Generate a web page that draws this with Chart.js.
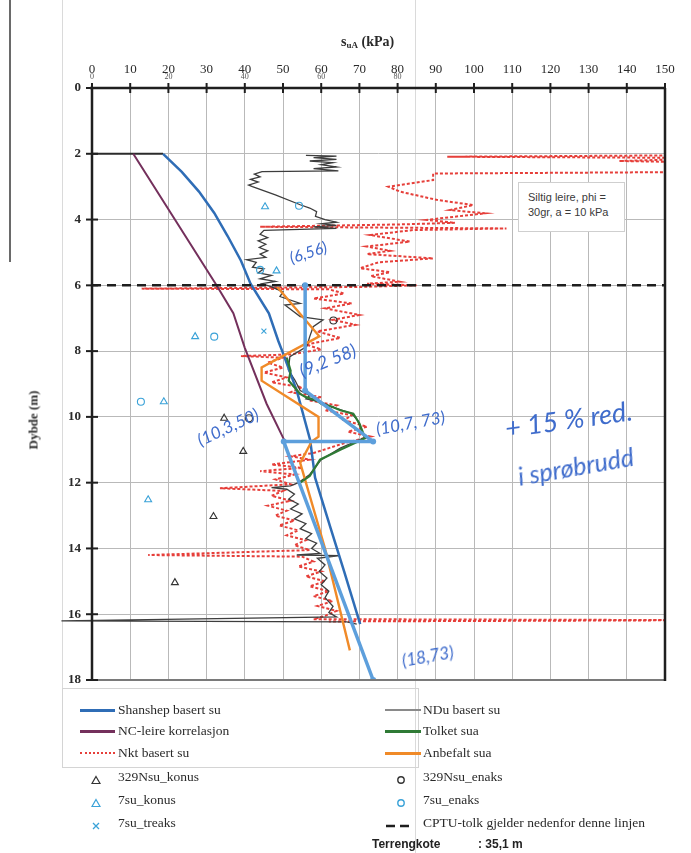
<!DOCTYPE html>
<html>
<head>
<meta charset="utf-8">
<title>Skjærfasthet mot dybde</title>
<script src="https://cdn.jsdelivr.net/npm/chart.js@4.4.0/dist/chart.umd.min.js"></script>
<style>
  html, body { margin: 0; padding: 0; background: #fff; }
  #wrap { position: relative; width: 691px; height: 853px; overflow: hidden; }
  #c { position: absolute; left: 0; top: 0; }
  .serif { font-family: "Liberation Serif", "DejaVu Serif", serif; color: #2a2a2a; }
  .abs { position: absolute; white-space: nowrap; line-height: 1; }
  .hand { position: absolute; white-space: nowrap; line-height: 1; color: #3f6ccc;
          font-family: "Lato", "Open Sans", sans-serif; font-style: italic; font-weight: 400; }
  #legendBox { position: absolute; left: 62px; top: 688px; width: 357px; height: 80px;
               border: 1px solid #d4d4d4; box-sizing: border-box; }
  .sw { position: absolute; height: 0; }
  #note { position: absolute; left: 518px; top: 182px; width: 107px; height: 50px; box-sizing: border-box;
          border: 1px solid #cfcfcf; background: #fff; padding: 7px 0 0 9px;
          font-family: "Liberation Sans", "Open Sans", sans-serif; font-size: 11px; line-height: 15px; color: #3a3a3a; }
</style>
</head>
<body>
<div id="wrap">
  <canvas id="c" width="691" height="853"></canvas>
</div>
<script>
// ---- axis ticks ----
const suTicks = [0, 10, 20, 30, 40, 50, 60, 70, 80, 90, 100, 110, 120, 130, 140, 150];
const suTicksSecondary = [0, 20, 40, 60, 80];
const depthTicks = [0, 2, 4, 6, 8, 10, 12, 14, 16, 18];

// ---- Shanshep basert su ----
const shanshepSu    = [18.6, 23.5, 28.0, 32.0, 35.5, 39.0, 41.5, 46.3, 48.8, 49.8, 53.6, 57.1, 58.4, 62.5, 66.0, 70.2];
const shanshepDepth = [2.0, 2.55, 3.15, 3.8, 4.5, 5.25, 5.95, 6.85, 7.7, 8.0, 9.2, 10.7, 11.85, 13.4, 14.7, 16.3];

// ---- NC-leire korrelasjon ----
const ncSu    = [10.8, 21.7, 32.6, 37.0, 40.0, 45.7, 50.3];
const ncDepth = [2.0, 4.0, 6.0, 6.85, 7.9, 9.6, 10.7];

// ---- NDu basert su ----
const nduSu = [56, 64, 58, 64, 57, 63, 60, 64, 58, 64.5, 44.5, 42.5, 44, 41.5, 43.5, 41, 42, 48, 54.5, 57, 58.8, 58.5, 61, 64, 60, 64, 58, 64,
  45, 44, 46, 43.5, 45.5, 43.8, 46, 44, 45.5, 40.5, 43, 42, 45, 43.5, 47, 44, 48, 44.5, 47, 50, 49.2, 54.5, 50.5, 54.5, 60.5, 57.9, 57,
  56.2, 51.8, 51.4, 53.1, 54.5, 57, 56, 60, 63, 68, 69.5, 70.5, 71.5, 65, 60, 57, 54, 52, 47, 51, 53, 51.5, 54, 52, 55, 53, 56, 54.5,
  57.5, 56, 58.8, 57.5, 59.7, 53.6, 64.9, 59, 61, 59.5, 61.5, 60, 62, 61, 63.1, 62, 64, -8, 66.7, 69.3];
const nduDepth = [2.05, 2.07, 2.12, 2.17, 2.22, 2.27, 2.33, 2.4, 2.45, 2.52, 2.54, 2.62, 2.7, 2.78, 2.86, 2.95, 3.0, 3.25, 3.55, 3.65,
  3.76, 3.9, 4.0, 4.08, 4.13, 4.18, 4.22, 4.27, 4.33, 4.45, 4.55, 4.65, 4.75, 4.85, 4.95, 5.05, 5.15, 5.22, 5.3, 5.45, 5.5, 5.62, 5.7,
  5.8, 5.88, 5.95, 6.05, 6.2, 6.34, 6.55, 6.6, 6.95, 7.05, 7.26, 7.56, 7.86, 8.17, 8.57, 8.88, 9.2, 9.35, 9.45, 9.55, 9.7, 9.9, 10.1,
  10.4, 10.62, 10.95, 11.3, 11.75, 12.0, 12.1, 12.15, 12.2, 12.35, 12.5, 12.65, 12.8, 12.95, 13.1, 13.25, 13.4, 13.55, 13.7, 13.84,
  14.0, 14.15, 14.2, 14.22, 14.3, 14.5, 14.7, 14.9, 15.1, 15.3, 15.5, 15.76, 15.95, 16.08, 16.2, 16.23, 16.3];

// top of the clay layer
const topSu    = [0, 18.6];
const topDepth = [2.0, 2.0];

// ---- Nkt basert su ----
const nktSu = [165, 93, 165, 138, 165, 165, 89.3, 89.3, 77.6, 80.6, 90.2, 99.8, 93.7, 102.9, 87.6, 95, 80, 44, 108.5, 84, 72.8, 83.2,
  71.9, 78, 72, 89.3, 75, 70.2, 78, 73, 80.6, 72, 85, 70, 13, 62, 66, 58, 68, 61, 70, 63, 69, 59, 65, 56, 60, 52, 39, 50, 46, 50, 45,
  51, 47, 55, 52, 60, 57, 64, 61, 68, 66, 72, 67, 73, 66, 62, 58, 52, 57, 47, 55, 44, 53, 48, 52, 33.5, 50, 47, 52, 46, 51, 48, 53, 49,
  54, 51, 56, 53, 57, 14.7, 55, 58, 54, 60, 56, 61, 57, 62, 58, 63, 59, 64, 61, 58, 165, 62];
const nktDepth = [2.04, 2.09, 2.13, 2.22, 2.27, 2.55, 2.6, 2.8, 3.0, 3.15, 3.4, 3.56, 3.71, 3.81, 4.01, 4.1, 4.15, 4.22, 4.27, 4.32,
  4.47, 4.67, 4.82, 4.95, 5.05, 5.18, 5.3, 5.48, 5.6, 5.72, 5.89, 5.95, 6.0, 6.05, 6.1, 6.12, 6.25, 6.4, 6.55, 6.7, 6.9, 7.05, 7.2,
  7.4, 7.6, 7.8, 7.95, 8.1, 8.15, 8.2, 8.35, 8.5, 8.65, 8.8, 8.95, 9.1, 9.25, 9.4, 9.5, 9.65, 9.8, 9.95, 10.1, 10.3, 10.45, 10.6,
  10.8, 10.95, 11.1, 11.2, 11.3, 11.45, 11.55, 11.65, 11.75, 11.9, 12.05, 12.17, 12.25, 12.4, 12.55, 12.7, 12.85, 13.0, 13.15, 13.3,
  13.45, 13.6, 13.75, 13.9, 14.05, 14.2, 14.25, 14.4, 14.55, 14.7, 14.85, 15.0, 15.15, 15.3, 15.45, 15.6, 15.75, 15.9, 16.05, 16.15,
  16.18, 16.22];

// ---- Tolket sua ----
const tolketSu    = [51, 52, 51.5, 53, 54.5, 56, 58.8, 60, 63, 65, 68.4, 70, 71.5, 65, 59.7, 57, 54.5];
const tolketDepth = [8.2, 8.6, 8.9, 9.1, 9.3, 9.4, 9.5, 9.6, 9.7, 9.8, 9.9, 10.2, 10.65, 11.0, 11.3, 11.8, 12.0];

// ---- Anbefalt sua ----
const anbefaltSu    = [48.5, 59.5, 44.4, 44.4, 59.3, 59.3, 57.5, 54.5, 61.0, 67.5];
const anbefaltDepth = [6.05, 7.55, 8.5, 8.9, 10.0, 10.6, 10.75, 11.4, 14.0, 17.1];

// ---- håndtegnet profil ----
const handSu    = [55.8, 55.8, 73.6, 50.2, 73.6];
const handDepth = [6.0, 9.2, 10.75, 10.75, 18.0];

// ---- CPTU-tolk grense ----
const cptuSu    = [0, 150];
const cptuDepth = [6.0, 6.0];

// ---- laboratorieforsøk ----
const nsu329KonusSu    = [34.6, 39.6, 31.8, 21.7];
const nsu329KonusDepth = [10.04, 11.05, 13.03, 15.04];
const nsu329EnaksSu    = [41.1, 63.2];
const nsu329EnaksDepth = [10.04, 7.07];
const su7KonusSu       = [45.3, 48.3, 27.0, 18.8, 14.7];
const su7KonusDepth    = [3.61, 5.56, 7.56, 9.54, 12.52];
const su7EnaksSu       = [54.2, 44.0, 32.0, 12.8];
const su7EnaksDepth    = [3.58, 5.53, 7.56, 9.54];
const su7TreaksSu      = [45.0];
const su7TreaksDepth   = [7.39];

// ---- colours ----
const C = {
  shanshep: '#2f6db6', nc: '#74305c', ndu: '#3d3d3d', tolket: '#2f7a35', anbefalt: '#f08a28',
  nkt: '#e63f3a', hand: '#5d9fdc', black: '#333333', lab: '#3aa2d8', dash: '#1e1e1e'
};

function pts(xs, ys) { return xs.map((v, i) => ({ x: v, y: ys[i] })); }

function lineSet(label, xs, ys, color, width, order, extra) {
  return Object.assign({
    label, data: pts(xs, ys), showLine: true, borderColor: color, backgroundColor: color,
    borderWidth: width, pointRadius: 0, tension: 0, fill: false, order
  }, extra || {});
}
function markerSet(label, xs, ys, color, style, radius, order) {
  return {
    label, data: pts(xs, ys), showLine: false, pointStyle: style, pointRadius: radius,
    pointBorderColor: color, pointBackgroundColor: 'rgba(0,0,0,0)', pointBorderWidth: 1.1, order
  };
}

const datasets = [
  markerSet('329Nsu_konus', nsu329KonusSu, nsu329KonusDepth, C.black, 'triangle', 4, 0),
  markerSet('329Nsu_enaks', nsu329EnaksSu, nsu329EnaksDepth, C.black, 'circle', 3.5, 0),
  markerSet('7su_konus', su7KonusSu, su7KonusDepth, C.lab, 'triangle', 4, 0),
  markerSet('7su_enaks', su7EnaksSu, su7EnaksDepth, C.lab, 'circle', 3.5, 0),
  markerSet('7su_treaks', su7TreaksSu, su7TreaksDepth, C.lab, 'crossRot', 3.5, 0),
  lineSet('', handSu, handDepth, C.hand, 3.5, 1, { pointRadius: 3, pointBorderWidth: 0, borderCapStyle: 'round', borderJoinStyle: 'round' }),
  lineSet('CPTU-tolk gjelder nedenfor denne linjen', cptuSu, cptuDepth, C.dash, 2.5, 2, { borderDash: [9, 6] }),
  lineSet('Tolket sua', tolketSu, tolketDepth, C.tolket, 2.2, 3),
  lineSet('Anbefalt sua', anbefaltSu, anbefaltDepth, C.anbefalt, 2.4, 4),
  lineSet('Shanshep basert su', shanshepSu, shanshepDepth, C.shanshep, 2.5, 5),
  lineSet('NC-leire korrelasjon', ncSu, ncDepth, C.nc, 2, 6),
  lineSet('NDu basert su', nduSu, nduDepth, C.ndu, 1.3, 7, { clip: { left: 40, top: 0, right: 0, bottom: 0 } }),
  lineSet('', topSu, topDepth, '#2b2b2b', 2, 7),
  lineSet('Nkt basert su', nktSu, nktDepth, C.nkt, 2, 8, { borderDash: [3, 2] })
];

function line(ctx, x1, y1, x2, y2) { ctx.beginPath(); ctx.moveTo(x1, y1); ctx.lineTo(x2, y2); ctx.stroke(); }

// page edges, frame, axis ticks and the second (small) su scale
const framePlugin = {
  id: 'frame',
  beforeDraw(chart) {
    const ctx = chart.ctx;
    ctx.save();
    ctx.fillStyle = '#fff';
    ctx.fillRect(0, 0, chart.width, chart.height);
    ctx.strokeStyle = '#dadada'; ctx.lineWidth = 1;
    line(ctx, 62.5, 0, 62.5, 688);
    line(ctx, 415.5, 0, 415.5, 853);
    ctx.strokeStyle = '#6a6a6a'; ctx.lineWidth = 2;
    line(ctx, 10, 0, 10, 262);
    ctx.restore();
  },
  afterDatasetsDraw(chart) {
    const { ctx, chartArea: a, scales: { x, y } } = chart;
    ctx.save();
    ctx.strokeStyle = '#7a7a7a'; ctx.lineWidth = 2;
    line(ctx, a.left, a.bottom, a.right, a.bottom);
    ctx.strokeStyle = '#1f1f1f'; ctx.lineWidth = 2.5;
    line(ctx, a.left - 2, a.top, a.right + 1, a.top);
    line(ctx, a.left, a.top, a.left, a.bottom);
    line(ctx, a.right, a.top, a.right, a.bottom + 1);
    ctx.lineWidth = 2;
    suTicks.forEach(v => { const px = x.getPixelForValue(v); line(ctx, px, a.top - 5, px, a.top + 5); });
    depthTicks.forEach(d => { const py = y.getPixelForValue(d); line(ctx, a.left - 6, py, a.left + 6, py); });
    ctx.fillStyle = '#555';
    ctx.font = '8px "Liberation Serif", serif';
    ctx.textAlign = 'center'; ctx.textBaseline = 'alphabetic';
    suTicksSecondary.forEach(v => ctx.fillText(String(v), x.getPixelForValue(v), a.top - 9));
    ctx.restore();
  }
};

new Chart(document.getElementById('c'), {
  type: 'scatter',
  data: { datasets },
  options: {
    responsive: false, animation: false, devicePixelRatio: 1,
    layout: { padding: { left: 0, top: 0, right: 26, bottom: 173 } },
    plugins: { legend: { display: false }, tooltip: { enabled: false } },
    scales: {
      x: {
        type: 'linear', position: 'top', min: 0, max: 150,
        afterFit(s) { s.height = 88; },
        afterBuildTicks(s) { s.ticks = suTicks.map(v => ({ value: v })); },
        ticks: { padding: 11, color: '#2a2a2a', font: { family: '"Liberation Serif", serif', size: 13 }, maxRotation: 0 },
        grid: { color: '#b9b9b9', lineWidth: 1, drawTicks: false },
        border: { display: false }
      },
      y: {
        type: 'linear', reverse: true, min: 0, max: 18,
        afterFit(s) { s.width = 92; },
        afterBuildTicks(s) { s.ticks = depthTicks.map(v => ({ value: v })); },
        ticks: { padding: 11, color: '#2a2a2a', font: { family: '"Liberation Serif", serif', size: 13, weight: 'bold' } },
        grid: { color: '#b9b9b9', lineWidth: 1, drawTicks: false },
        border: { display: false }
      }
    }
  },
  plugins: [framePlugin]
});

// ---- texts around the plot ----
const wrap = document.getElementById('wrap');
function addDiv(html, cls, style) {
  const d = document.createElement('div');
  d.className = cls; d.innerHTML = html; d.style.cssText = style; wrap.appendChild(d); return d;
}

addDiv('s<sub style="font-size:9px;vertical-align:-2px">uA</sub> (kPa)', 'abs serif',
  'left:341px;top:35px;font-size:14px;font-weight:bold;');
addDiv('Dybde (m)', 'abs serif',
  'left:33px;top:420px;font-size:13px;font-weight:bold;transform:translate(-50%,-50%) rotate(-90deg);');

// soil description box
addDiv('Siltig leire, phi =<br>30gr, a = 10 kPa', '', '').id = 'note';

// handwritten notes
const handNotes = [
  ['(6,56)', 290, 250, 16, -18],
  ['(9,2 58)', 300, 362, 18, -22],
  ['(10,7, 73)', 376, 420, 17, -10],
  ['(10,3,50)', 198, 432, 17, -25],
  ['(18,73)', 402, 652, 17, -10],
  ['+ 15 % red.', 505, 414, 27, -8],
  ['i sprøbrudd', 518, 464, 25, -10]
];
handNotes.forEach(([t, l, tp, fs, rot]) =>
  addDiv(t, 'hand', `left:${l}px;top:${tp}px;font-size:${fs}px;transform:rotate(${rot}deg);transform-origin:left center;`));

// ---- legend ----
addDiv('', '', '').id = 'legendBox';

const legendLines = [
  ['Shanshep basert su', 'left', 0, `border-top:3px solid ${C.shanshep}`],
  ['NC-leire korrelasjon', 'left', 1, `border-top:3px solid ${C.nc}`],
  ['Nkt basert su', 'left', 2, `border-top:2px dotted ${C.nkt}`],
  ['NDu basert su', 'right', 0, `border-top:2px solid #8a8a8a`],
  ['Tolket sua', 'right', 1, `border-top:3px solid ${C.tolket}`],
  ['Anbefalt sua', 'right', 2, `border-top:3px solid ${C.anbefalt}`]
];
const legendMarkers = [
  ['329Nsu_konus', 'left', 3, 'tri', C.black],
  ['7su_konus', 'left', 4, 'tri', C.lab],
  ['7su_treaks', 'left', 5, 'x', C.lab],
  ['329Nsu_enaks', 'right', 3, 'circ', C.black],
  ['7su_enaks', 'right', 4, 'circ', C.lab],
  ['CPTU-tolk gjelder nedenfor denne linjen', 'right', 5, 'dash', C.dash]
];
const rowY = [710, 731, 753, 777, 800, 823];
const col = { left: { sw: 80, txt: 118, mk: 96 }, right: { sw: 385, txt: 423, mk: 401 } };

legendLines.forEach(([t, side, r, border]) => {
  const c = col[side];
  addDiv('', 'sw', `left:${c.sw}px;top:${rowY[r] - 1}px;width:${side === 'left' ? 35 : 36}px;${border};`);
  addDiv(t, 'abs serif', `left:${c.txt}px;top:${rowY[r] - 7}px;font-size:13.5px;`);
});

function markerSvg(kind, color) {
  if (kind === 'tri') return `<svg width="10" height="10"><polygon points="5,1.5 9,8.5 1,8.5" fill="none" stroke="${color}" stroke-width="1.2"/></svg>`;
  if (kind === 'circ') return `<svg width="10" height="10"><circle cx="5" cy="5" r="3.2" fill="none" stroke="${color}" stroke-width="1.4"/></svg>`;
  if (kind === 'x') return `<svg width="10" height="10"><path d="M2,2 L8,8 M8,2 L2,8" stroke="${color}" stroke-width="1.3"/></svg>`;
  return `<svg width="26" height="10"><path d="M1,5 L10,5 M15,5 L24,5" stroke="${color}" stroke-width="2.5"/></svg>`;
}
legendMarkers.forEach(([t, side, r, kind, color]) => {
  const c = col[side];
  const left = kind === 'dash' ? c.sw : c.mk - 5;
  addDiv(markerSvg(kind, color), 'abs', `left:${left}px;top:${rowY[r] - 5}px;`);
  addDiv(t, 'abs serif', `left:${c.txt}px;top:${rowY[r] - 7}px;font-size:13.5px;`);
});

addDiv('Terrengkote', 'abs', 'left:372px;top:838px;font-family:"Liberation Sans",sans-serif;font-weight:bold;font-size:12px;color:#222;');
addDiv(': 35,1 m', 'abs', 'left:478px;top:838px;font-family:"Liberation Sans",sans-serif;font-weight:bold;font-size:12px;color:#222;');
</script>
</body>
</html>
